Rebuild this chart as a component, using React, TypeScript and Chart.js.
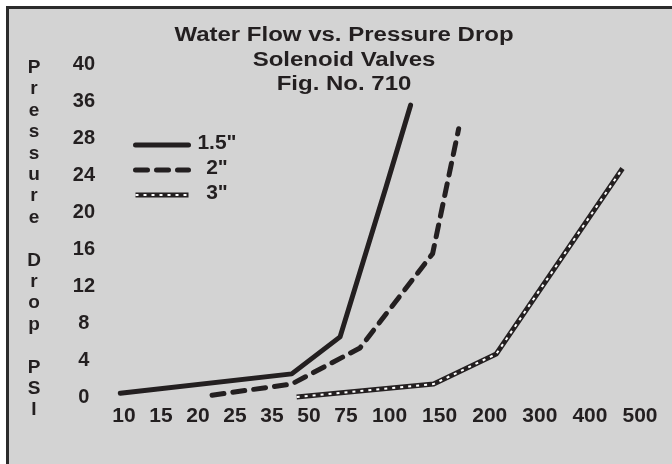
import React, { useEffect, useRef } from "react";
import { Chart, Scale, registerables } from "chart.js";

// ---------- data ----------
const TITLE_LINES = ["Water Flow vs. Pressure Drop", "Solenoid Valves", "Fig. No. 710"];
const Y_AXIS_TITLE = "Pressure Drop PSI";

// tick labels (flow, GPM) and (pressure drop, PSI)
const X_TICKS = [10, 15, 20, 25, 35, 50, 75, 100, 150, 200, 300, 400, 500];
const Y_TICKS = [0, 4, 8, 12, 16, 20, 24, 28, 36, 40];

const SERIES_LABELS = ['1.5"', '2"', '3"'];

const FLOW_15 = [9.5, 43, 71, 98, 121];
const PSI_15 = [0.4, 2.5, 6.5, 22.7, 35.1];

const FLOW_2 = [21.9, 43, 83, 143, 169];
const PSI_2 = [0.2, 1.4, 5.3, 15.5, 30];

const FLOW_3 = [45, 144, 213, 465];
const PSI_3 = [0, 1.4, 4.65, 24.7];

// ---------- styles ----------
const INK = "#231f20";
const GRAY = "#d3d3d3";
const FONT = '"Liberation Sans", Arial, Helvetica, sans-serif';

// A scale whose tick labels sit in "slots": spacing between labels is either
// uniform or follows the label text lengths, and values are interpolated
// linearly between neighbouring labels.
class SlotScale extends Scale {
  static id = "slot";
  static defaults = {};
  _slots: number[] = [];
  _vals: number[] = [];

  parse(raw: any) {
    return raw == null ? NaN : +raw;
  }
  determineDataLimits() {
    const vals = Array.from((this.options as any).values as number[]);
    this._vals = vals;
    this.min = vals[0];
    this.max = vals[vals.length - 1];
  }
  buildTicks() {
    const vals = this._vals;
    const opts: any = this.options;
    const gap = opts.gap ?? 0;
    const uniform = !!opts.uniform;
    const pos = [0];
    for (let i = 1; i < vals.length; i++) {
      const step = uniform ? 1 : (String(vals[i - 1]).length + String(vals[i]).length) / 2 + gap;
      pos.push(pos[i - 1] + step);
    }
    const total = pos[pos.length - 1];
    this._slots = pos.map((p) => p / total);
    return vals.map((value) => ({ value }));
  }
  getLabelForValue(v: number) {
    return String(v);
  }
  _toDecimal(v: number) {
    const vals = this._vals;
    const s = this._slots;
    const n = vals.length;
    let i = 0;
    while (i < n - 2 && v > vals[i + 1]) i++;
    const t = (v - vals[i]) / (vals[i + 1] - vals[i]);
    return s[i] + t * (s[i + 1] - s[i]);
  }
  getPixelForValue(v: number) {
    return this.getPixelForDecimal(this._toDecimal(v));
  }
  getPixelForTick(i: number) {
    return this.getPixelForDecimal(this._slots[i]);
  }
  getValueForPixel(p: number) {
    const d = this.getDecimalForPixel(p);
    const vals = this._vals;
    const s = this._slots;
    let i = 0;
    while (i < s.length - 2 && d > s[i + 1]) i++;
    const t = (d - s[i]) / (s[i + 1] - s[i]);
    return vals[i] + t * (vals[i + 1] - vals[i]);
  }
}

Chart.register(...registerables, SlotScale as any);

const pts = (xs: number[], ys: number[]) => xs.map((x, i) => ({ x, y: ys[i] }));

const titlePlugin = {
  id: "stretchedTitle",
  afterDraw(chart: any) {
    const ctx = chart.ctx;
    ctx.save();
    ctx.fillStyle = INK;
    ctx.font = `bold 20px ${FONT}`;
    ctx.textAlign = "center";
    ctx.textBaseline = "alphabetic";
    TITLE_LINES.forEach((t, i) => {
      ctx.save();
      ctx.translate(344, 41 + i * 24.5);
      ctx.scale(1.2, 1);
      ctx.fillText(t, 0, 0);
      ctx.restore();
    });
    ctx.restore();
  },
};

const axisTitlePlugin = {
  id: "stackedAxisTitle",
  afterDraw(chart: any) {
    const ctx = chart.ctx;
    ctx.save();
    ctx.fillStyle = INK;
    ctx.font = `bold 19px ${FONT}`;
    ctx.textAlign = "center";
    ctx.textBaseline = "alphabetic";
    Array.from(Y_AXIS_TITLE).forEach((ch, i) => {
      if (ch !== " ") ctx.fillText(ch, 34, 73 + i * 21.4);
    });
    ctx.restore();
  },
};

const LEGEND_GROUPS = [[0], [1], [2, 3]];

const legendPlugin = {
  id: "insetLegend",
  afterDraw(chart: any) {
    const ctx = chart.ctx;
    ctx.save();
    LEGEND_GROUPS.forEach((group, i) => {
      const y = 145 + i * 25;
      group.forEach((di) => {
        const ds = chart.data.datasets[di];
        ctx.save();
        ctx.strokeStyle = ds.borderColor;
        ctx.lineWidth = ds.borderWidth;
        ctx.lineCap = ds.borderCapStyle || "butt";
        ctx.setLineDash(ds.borderDash || []);
        ctx.beginPath();
        ctx.moveTo(135.5, y);
        ctx.lineTo(188.5, y);
        ctx.stroke();
        ctx.restore();
      });
      ctx.fillStyle = INK;
      ctx.font = `bold 21px ${FONT}`;
      ctx.textAlign = "center";
      ctx.textBaseline = "middle";
      ctx.fillText(SERIES_LABELS[i], 217, y - 2);
    });
    ctx.restore();
  },
};

export default function App() {
  const ref = useRef<HTMLCanvasElement>(null);

  useEffect(() => {
    if (!ref.current) return;
    const common = {
      fill: false,
      tension: 0,
      pointRadius: 0,
      pointHoverRadius: 0,
      clip: false,
      borderJoinStyle: "round",
    };
    const chart = new Chart(ref.current, {
      type: "line",
      data: {
        datasets: [
          {
            ...common,
            label: SERIES_LABELS[0],
            data: pts(FLOW_15, PSI_15),
            borderColor: INK,
            borderWidth: 5,
            borderCapStyle: "round",
            order: 1,
          },
          {
            ...common,
            label: SERIES_LABELS[1],
            data: pts(FLOW_2, PSI_2),
            borderColor: INK,
            borderWidth: 5,
            borderCapStyle: "round",
            borderDash: [12, 9],
            order: 1,
          },
          {
            ...common,
            label: SERIES_LABELS[2],
            data: pts(FLOW_3, PSI_3),
            borderColor: INK,
            borderWidth: 5,
            borderCapStyle: "butt",
            order: 1,
          },
          {
            ...common,
            label: SERIES_LABELS[2] + " pattern",
            data: pts(FLOW_3, PSI_3),
            borderColor: "#ffffff",
            borderWidth: 2,
            borderCapStyle: "butt",
            borderDash: [3, 5],
            order: 0,
          },
        ] as any,
      },
      options: {
        animation: false,
        responsive: false,
        maintainAspectRatio: false,
        events: [],
        layout: { padding: { left: 44, right: 32, top: 64, bottom: 27 } },
        plugins: {
          legend: { display: false },
          title: { display: false },
          tooltip: { enabled: false },
        },
        scales: {
          x: {
            type: "slot",
            position: "bottom",
            values: X_TICKS,
            gap: 0.826,
            grid: { display: false, drawTicks: false },
            border: { display: false },
            ticks: {
              color: INK,
              font: { family: FONT, weight: "bold", size: 21 },
              padding: 7,
              autoSkip: false,
              maxRotation: 0,
              minRotation: 0,
            },
            afterFit: (s: any) => {
              s.height = 40;
            },
          },
          y: {
            type: "slot",
            position: "left",
            values: Y_TICKS,
            uniform: true,
            grid: { display: false, drawTicks: false },
            border: { display: false },
            ticks: {
              color: INK,
              font: { family: FONT, weight: "bold", size: 20 },
              padding: 29,
              crossAlign: "center",
              autoSkip: false,
            },
            afterFit: (s: any) => {
              s.width = 80;
            },
          },
        } as any,
      },
      plugins: [titlePlugin, axisTitlePlugin, legendPlugin],
    } as any);
    return () => chart.destroy();
  }, []);

  return (
    <div
      style={{
        position: "absolute",
        left: 0,
        top: 0,
        width: 672,
        height: 464,
        background: "#ffffff",
        overflow: "hidden",
      }}
    >
      <div
        style={{
          position: "absolute",
          left: 6,
          top: 6,
          right: 0,
          bottom: 0,
          background: GRAY,
          borderTop: "3px solid #2b2b2b",
          borderLeft: "3px solid #2b2b2b",
        }}
      />
      <canvas
        ref={ref}
        width={672}
        height={464}
        style={{ position: "absolute", left: 0, top: 0, width: 672, height: 464 }}
      />
    </div>
  );
}
